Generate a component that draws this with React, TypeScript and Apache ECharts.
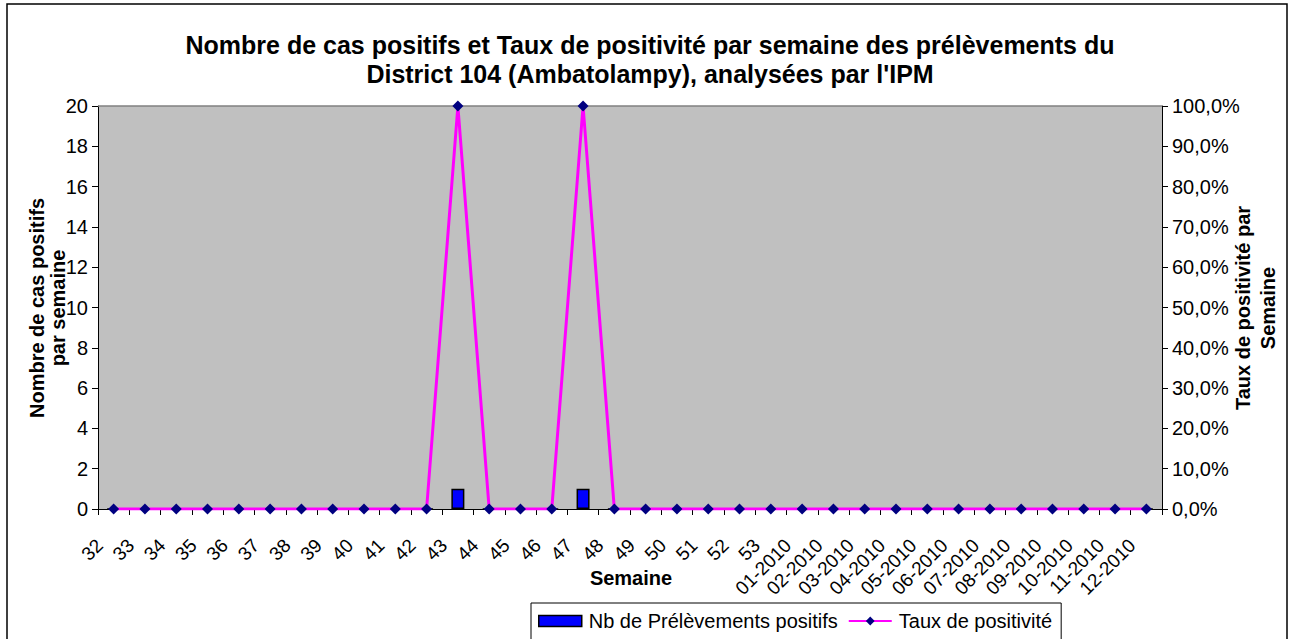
import React, { useEffect, useRef } from "react";
import * as echarts from "echarts";

const categories = [
  "32", "33", "34", "35", "36", "37", "38", "39", "40", "41", "42", "43", "44", "45", "46", "47", "48", "49", "50", "51", "52", "53",
  "01-2010", "02-2010", "03-2010", "04-2010", "05-2010", "06-2010", "07-2010", "08-2010", "09-2010", "10-2010", "11-2010", "12-2010",
];
const positifs = [0, 0, 0, 0, 0, 0, 0, 0, 0, 0, 0, 1, 0, 0, 0, 1, 0, 0, 0, 0, 0, 0, 0, 0, 0, 0, 0, 0, 0, 0, 0, 0, 0, 0];
const taux = [0, 0, 0, 0, 0, 0, 0, 0, 0, 0, 0, 1, 0, 0, 0, 1, 0, 0, 0, 0, 0, 0, 0, 0, 0, 0, 0, 0, 0, 0, 0, 0, 0, 0];

const FONT = "Liberation Sans, Arial, sans-serif";

export default function App() {
  const ref = useRef<HTMLDivElement>(null);
  useEffect(() => {
    document.body.style.margin = "0";
    const chart = echarts.init(ref.current!, null, { renderer: "svg" });
    chart.setOption({
      animation: false,
      backgroundColor: "#fff",
      textStyle: { fontFamily: FONT },
      title: {
        text: "Nombre de cas positifs et Taux de positivité par semaine des prélèvements du\nDistrict 104 (Ambatolampy), analysées par l'IPM",
        left: 645,
        textAlign: "center",
        top: 25,
        textStyle: { fontFamily: FONT, fontSize: 25, fontWeight: "bold", color: "#000", lineHeight: 29 },
      },
      grid: { left: 98, right: 131, top: 106, bottom: 130, backgroundColor: "#C0C0C0", show: true, borderWidth: 0 },
      legend: {
        left: 531,
        top: 603,
        padding: [8, 9, 12, 7],
        borderColor: "#000",
        borderWidth: 1,
        backgroundColor: "#fff",
        itemWidth: 43,
        itemHeight: 11,
        itemGap: 10,
        textStyle: { fontFamily: FONT, fontSize: 20, color: "#000", padding: [0, 0, 0, 2] },
        data: [
          { name: "Nb de Prélèvements positifs", icon: "rect", itemStyle: { color: "#0000FF", borderColor: "#000", borderWidth: 1.5 } },
          { name: "Taux de positivité" },
        ],
      },
      xAxis: {
        type: "category",
        data: categories,
        boundaryGap: true,
        axisLine: { lineStyle: { color: "#000", width: 1 } },
        axisTick: { show: true, length: 6, lineStyle: { color: "#000" } },
        axisLabel: { rotate: 45, fontSize: 19, color: "#000", fontFamily: FONT, margin: 19, interval: 0, padding: [0, 20, 0, 0] },
      },
      yAxis: [
        {
          type: "value",
          min: 0,
          max: 20,
          interval: 2,
          axisLine: { show: true, lineStyle: { color: "#000" } },
          axisTick: { show: true, length: 6, lineStyle: { color: "#000" } },
          splitLine: { show: false },
          axisLabel: { fontSize: 20, color: "#000", fontFamily: FONT, margin: 10 },
        },
        {
          type: "value",
          min: 0,
          max: 1,
          interval: 0.1,
          position: "right",
          axisLine: { show: true, lineStyle: { color: "#000" } },
          axisTick: { show: true, length: 6, lineStyle: { color: "#000" } },
          splitLine: { show: false },
          axisLabel: {
            fontSize: 20,
            color: "#000",
            fontFamily: FONT,
            margin: 10,
            formatter: (v: number) => (v * 100).toFixed(1).replace(".", ",") + "%",
          },
        },
      ],
      series: [
        {
          name: "Nb de Prélèvements positifs",
          type: "bar",
          data: positifs,
          yAxisIndex: 0,
          barWidth: 13,
          itemStyle: { color: "#0000FF", borderColor: "#000", borderWidth: 1.5 },
          z: 2,
        },
        {
          name: "Taux de positivité",
          type: "line",
          data: taux,
          yAxisIndex: 1,
          symbol: "diamond",
          symbolSize: 11,
          lineStyle: { color: "#FF00FF", width: 3 },
          itemStyle: { color: "#000080", borderWidth: 0 },
          z: 3,
        },
      ],
      graphic: [
        { type: "rect", shape: { x: 7, y: 4, width: 1280, height: 650 }, style: { fill: "none", stroke: "#000", lineWidth: 1.5 }, z: -1, silent: true },
        { type: "line", shape: { x1: 98, y1: 106, x2: 1162, y2: 106 }, style: { stroke: "#808080", lineWidth: 1.5 }, z: 1 },
        {
          type: "text",
          x: 631,
          y: 578,
          style: { text: "Semaine", font: `bold 20px ${FONT}`, fill: "#000", align: "center", verticalAlign: "middle" },
        },
        {
          type: "text",
          x: 47,
          y: 308,
          rotation: Math.PI / 2,
          style: {
            text: "Nombre de cas positifs\npar semaine",
            font: `bold 20px ${FONT}`,
            fill: "#000",
            align: "center",
            verticalAlign: "middle",
            lineHeight: 21,
          },
        },
        {
          type: "text",
          x: 1255,
          y: 308,
          rotation: Math.PI / 2,
          style: {
            text: "Taux de positivité par\nSemaine",
            font: `bold 20px ${FONT}`,
            fill: "#000",
            align: "center",
            verticalAlign: "middle",
            lineHeight: 25,
          },
        },
      ],
    });
    return () => chart.dispose();
  }, []);
  return <div ref={ref} style={{ width: 1293, height: 639 }} />;
}
